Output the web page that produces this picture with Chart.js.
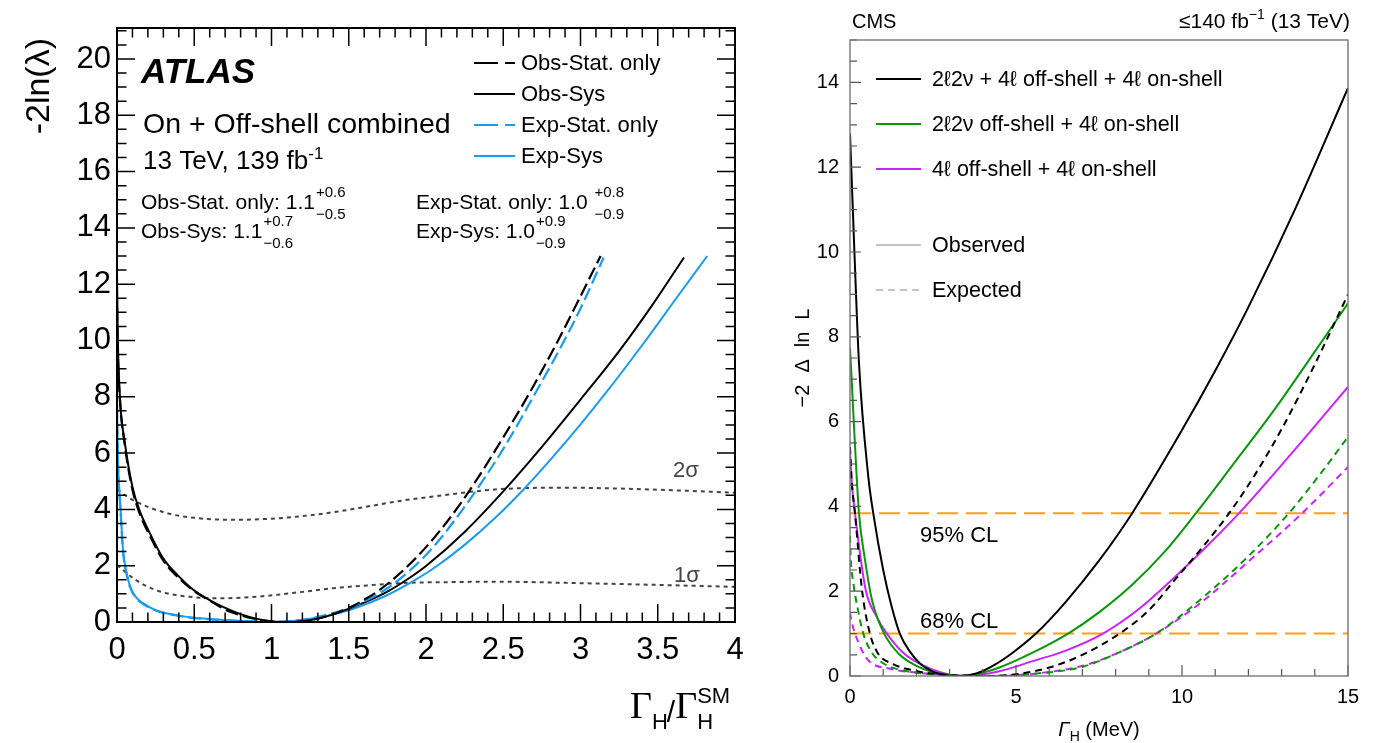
<!DOCTYPE html>
<html lang="en">
<head>
<meta charset="UTF-8">
<title>Higgs width likelihood scans</title>
<style>
  body { margin: 0; background: #fff; }
  #wrap { position: relative; width: 1377px; height: 743px; overflow: hidden; }
  canvas { position: absolute; top: 0; }
  #atlas { left: 0; }
  #cms { left: 780px; }
</style>
</head>
<body>
<div id="wrap">
  <canvas id="atlas" width="770" height="743"></canvas>
  <canvas id="cms" width="597" height="743"></canvas>
</div>
<script src="https://cdn.jsdelivr.net/npm/chart.js@4.4.0/dist/chart.umd.min.js"></script>
<script>
// ---- ATLAS scan: -2ln(lambda) vs Gamma_H / Gamma_H^SM ----
const obsStatX = [0, 0.005, 0.02, 0.05, 0.1, 0.15, 0.2, 0.3, 0.4, 0.5, 0.6, 0.7, 0.8, 0.9, 1.0, 1.1, 1.2, 1.3, 1.4, 1.5, 1.6, 1.7, 1.85, 2.0, 2.15, 2.3, 2.5, 2.69, 2.85, 2.98, 3.13];
const obsStatY = [11.2, 9.6, 7.8, 6.3, 4.7, 3.8, 3.2, 2.18, 1.56, 1.1, 0.76, 0.44, 0.24, 0.1, 0.02, 0, 0.03, 0.12, 0.28, 0.5, 0.79, 1.14, 1.82, 2.66, 3.66, 4.82, 6.56, 8.33, 9.95, 11.35, 13.0];

const obsSysX = [0, 0.005, 0.02, 0.05, 0.1, 0.15, 0.2, 0.3, 0.4, 0.5, 0.6, 0.7, 0.8, 0.9, 1.0, 1.1, 1.2, 1.3, 1.4, 1.5, 1.625, 1.75, 1.875, 2.0, 2.25, 2.5, 2.75, 3.0, 3.25, 3.47, 3.67];
const obsSysY = [12.4, 10.2, 7.9, 6.4, 4.8, 3.9, 3.3, 2.25, 1.62, 1.12, 0.78, 0.5, 0.28, 0.12, 0.03, 0, 0.03, 0.12, 0.27, 0.47, 0.75, 1.08, 1.5, 1.99, 3.2, 4.64, 6.22, 7.9, 9.62, 11.3, 12.95];

const expStatX = [0, 0.003, 0.01, 0.02, 0.04, 0.06, 0.085, 0.12, 0.17, 0.25, 0.32, 0.43, 0.54, 0.75, 0.9, 1.0, 1.1, 1.2, 1.3, 1.4, 1.5, 1.6, 1.75, 1.9, 2.05, 2.3, 2.5, 2.72, 2.9, 3.01, 3.15];
const expStatY = [7.7, 6.4, 5.1, 4.2, 2.45, 1.76, 1.23, 0.88, 0.64, 0.41, 0.3, 0.19, 0.12, 0.05, 0.015, 0, 0.02, 0.08, 0.18, 0.32, 0.5, 0.73, 1.2, 1.85, 2.68, 4.48, 6.15, 8.25, 10.05, 11.25, 12.95];

const expSysX = [0, 0.003, 0.01, 0.02, 0.04, 0.06, 0.085, 0.12, 0.17, 0.25, 0.32, 0.43, 0.54, 0.75, 0.9, 1.0, 1.1, 1.2, 1.3, 1.4, 1.5, 1.6, 1.75, 1.9, 2.05, 2.25, 2.45, 2.63, 2.8, 3.0, 3.17, 3.4, 3.62, 3.82];
const expSysY = [7.85, 6.5, 5.2, 4.3, 2.5, 1.8, 1.26, 0.9, 0.66, 0.42, 0.31, 0.2, 0.13, 0.05, 0.015, 0, 0.02, 0.07, 0.16, 0.27, 0.42, 0.61, 0.96, 1.4, 1.91, 2.74, 3.71, 4.7, 5.73, 7.02, 8.18, 9.84, 11.5, 13.0];

// 1 and 2 sigma thresholds
const sigma2X = [0, 0.1, 0.32, 0.5, 0.75, 1.0, 1.18, 1.4, 1.62, 1.83, 2.05, 2.48, 2.91, 3.25, 3.6, 4.0];
const sigma2Y = [4.7, 4.34, 3.87, 3.7, 3.63, 3.67, 3.75, 3.9, 4.1, 4.3, 4.46, 4.72, 4.77, 4.74, 4.68, 4.59];
const sigma1X = [0, 0.106, 0.2, 0.32, 0.5, 0.65, 0.8, 0.97, 1.2, 1.4, 1.62, 1.83, 2.2, 2.48, 2.91, 3.4, 4.0];
const sigma1Y = [2.03, 1.55, 1.25, 1.02, 0.88, 0.84, 0.86, 0.93, 1.07, 1.2, 1.3, 1.38, 1.42, 1.43, 1.39, 1.33, 1.25];

const atlasXTicks = [0, 4, 0.5];      // min, max, label step
const atlasYTicks = [0, 21.1, 2];

// ---- CMS scan: -2 Delta ln L vs Gamma_H (MeV) ----
const cmbObsX = [0, 0.13, 0.27, 0.55, 0.7, 1.0, 1.25, 1.5, 1.8, 2.1, 2.45, 2.8, 3.3, 3.8, 4.3, 4.9, 5.6, 6.5, 7.5, 8.5, 10.0, 11.0, 12.0, 13.4, 15.0];
const cmbObsY = [12.8, 10.06, 7.39, 4.71, 3.84, 2.5, 1.65, 1.0, 0.58, 0.3, 0.12, 0.03, 0, 0.06, 0.24, 0.55, 1.0, 1.75, 2.72, 3.84, 5.8, 7.2, 8.7, 11.0, 13.87];
const cmbExpX = [0, 0.05, 0.15, 0.36, 0.6, 0.83, 1.3, 2.0, 2.7, 3.4, 4.1, 5.0, 6.0, 7.0, 8.12, 9.0, 9.82, 10.6, 11.42, 12.2, 13.02, 14.0, 15.0];
const cmbExpY = [5.4, 4.6, 3.84, 2.04, 1.0, 0.55, 0.28, 0.12, 0.04, 0.01, 0, 0.04, 0.2, 0.5, 1.0, 1.55, 2.3, 3.02, 3.84, 4.75, 5.85, 7.35, 9.0];

const nuObsX = [0, 0.05, 0.12, 0.27, 0.45, 0.66, 1.03, 1.5, 2.0, 2.5, 3.0, 3.3, 3.8, 4.5, 5.5, 6.57, 7.5, 8.5, 9.5, 10.42, 11.5, 12.8, 14.0, 15.0];
const nuObsY = [7.74, 7.0, 5.9, 3.84, 2.75, 1.8, 1.0, 0.5, 0.24, 0.09, 0.02, 0, 0.04, 0.2, 0.55, 1.0, 1.5, 2.15, 2.95, 3.84, 4.95, 6.3, 7.65, 8.79];
const nuExpX = [0, 0.02, 0.1, 0.23, 0.4, 0.66, 1.0, 1.5, 2.5, 3.3, 4.1, 5.5, 7.02, 8.0, 9.22, 10.52, 11.9, 13.22, 14.2, 15.0];
const nuExpY = [3.3, 2.8, 2.2, 1.6, 1.0, 0.55, 0.3, 0.15, 0.04, 0.01, 0, 0.05, 0.22, 0.52, 1.0, 1.78, 2.75, 3.84, 4.8, 5.64];

const fourLObsX = [0, 0.05, 0.15, 0.47, 0.8, 1.11, 1.6, 2.2, 2.8, 3.3, 3.9, 4.5, 5.5, 6.5, 7.62, 8.7, 9.82, 10.8, 11.72, 13.3, 15.0];
const fourLObsY = [5.3, 4.6, 3.84, 2.04, 1.4, 1.0, 0.55, 0.25, 0.07, 0, 0.03, 0.11, 0.35, 0.6, 1.0, 1.58, 2.36, 3.1, 3.84, 5.25, 6.82];
const fourLExpX = [0, 0.05, 0.15, 0.52, 1.22, 2.0, 3.0, 4.1, 5.5, 7.0, 8.0, 9.22, 10.52, 12.0, 13.62, 15.0];
const fourLExpY = [1.5, 1.28, 1.0, 0.4, 0.17, 0.08, 0.02, 0, 0.05, 0.24, 0.52, 1.0, 1.7, 2.7, 3.84, 4.93];

const clLevels = [3.84, 1.0];        // 95% and 68% CL
const cmsXTicks = [0, 15, 5];
const cmsYTicks = [0, 15, 2];

const SANS = '"Liberation Sans", Arial, "DejaVu Sans", sans-serif';
const SERIF = '"Liberation Serif", "Times New Roman", serif';

function pts(xs, ys) { return xs.map((x, i) => ({ x: x, y: ys[i] })); }

function curve(label, xs, ys, color, dash, width) {
  return {
    label: label,
    data: pts(xs, ys),
    borderColor: color,
    borderDash: dash || [],
    borderWidth: width,
    pointRadius: 0,
    fill: false,
    cubicInterpolationMode: 'monotone'
  };
}

// inward ROOT-style ticks plus the frame around the plot area
const frameTicks = {
  id: 'frameTicks',
  afterDatasetsDraw(chart, args, o) {
    const { ctx, chartArea: a } = chart;
    const sx = chart.scales.x, sy = chart.scales.y;
    ctx.save();
    ctx.strokeStyle = o.color;
    ctx.lineWidth = o.tickWidth;
    ctx.beginPath();
    const walk = (scale, minor, major, fn) => {
      for (let i = 0; ; i++) {
        const v = scale.min + i * minor;
        if (v > scale.max + 1e-9) break;
        const r = v / major;
        fn(scale.getPixelForValue(v), Math.abs(r - Math.round(r)) < 1e-6);
      }
    };
    walk(sx, o.xMinor, o.xMajor, (px, big) => {
      const len = big ? o.majorLen : o.minorLen;
      ctx.moveTo(px, a.bottom); ctx.lineTo(px, a.bottom - len);
      if (o.mirror) { ctx.moveTo(px, a.top); ctx.lineTo(px, a.top + len); }
    });
    walk(sy, o.yMinor, o.yMajor, (py, big) => {
      const len = big ? o.majorLen : o.minorLen;
      ctx.moveTo(a.left, py); ctx.lineTo(a.left + len, py);
      if (o.mirror) { ctx.moveTo(a.right, py); ctx.lineTo(a.right - len, py); }
    });
    ctx.stroke();
    ctx.strokeStyle = o.frameColor;
    ctx.lineWidth = o.frameWidth;
    ctx.strokeRect(a.left, a.top, a.right - a.left, a.bottom - a.top);
    ctx.restore();
  }
};

function runs(ctx, x, y, parts) {
  for (const p of parts) {
    ctx.font = p[1];
    ctx.fillText(p[0], x, y + (p[2] || 0));
    x += ctx.measureText(p[0]).width;
  }
  return x;
}

function withErrors(ctx, x, y, main, up, down) {
  ctx.font = '21px ' + SANS;
  ctx.fillText(main, x, y);
  const xs = x + ctx.measureText(main).width + 1;
  ctx.font = '15px ' + SANS;
  ctx.fillText(up, xs, y - 12);
  ctx.fillText(down, xs, y + 10);
}

function sample(ctx, x0, x1, y, color, dash, width) {
  ctx.save();
  ctx.strokeStyle = color;
  ctx.lineWidth = width;
  ctx.setLineDash(dash);
  ctx.beginPath();
  ctx.moveTo(x0, y); ctx.lineTo(x1, y);
  ctx.stroke();
  ctx.restore();
}

const atlasText = {
  id: 'atlasText',
  afterDraw(chart) {
    const ctx = chart.ctx;
    ctx.save();
    ctx.fillStyle = '#000';
    ctx.textBaseline = 'alphabetic';
    ctx.textAlign = 'left';

    ctx.font = 'italic bold 35px ' + SANS;
    ctx.fillText('ATLAS', 141, 83);
    ctx.font = '28.5px ' + SANS;
    ctx.fillText('On + Off-shell combined', 143, 133);
    runs(ctx, 143, 169, [['13 TeV, 139 fb', '26px ' + SANS], ['-1', '17px ' + SANS, -10]]);

    withErrors(ctx, 141, 209, 'Obs-Stat. only: 1.1', '+0.6', '\u22120.5');
    withErrors(ctx, 141, 238, 'Obs-Sys: 1.1', '+0.7', '\u22120.6');
    withErrors(ctx, 416, 209, 'Exp-Stat. only: 1.0 ', '+0.8', '\u22120.9');
    withErrors(ctx, 416, 238, 'Exp-Sys: 1.0', '+0.9', '\u22120.9');

    // legend
    const leg = [
      ['Obs-Stat. only', '#000', [24, 7]],
      ['Obs-Sys', '#000', []],
      ['Exp-Stat. only', '#199cf0', [24, 7]],
      ['Exp-Sys', '#199cf0', []]
    ];
    ctx.font = '22px ' + SANS;
    ctx.textBaseline = 'middle';
    leg.forEach((e, i) => {
      const y = 63 + i * 31;
      sample(ctx, 474, 515, y, e[1], e[2], 2.2);
      ctx.fillText(e[0], 521, y + 1);
    });

    ctx.fillStyle = '#444';
    ctx.font = '22px ' + SANS;
    ctx.fillText('2\u03c3', 673, 471);
    ctx.fillText('1\u03c3', 674, 576);

    // axis titles
    ctx.fillStyle = '#000';
    ctx.save();
    ctx.translate(40, 38);
    ctx.rotate(-Math.PI / 2);
    ctx.textAlign = 'right';
    ctx.font = '34px ' + SANS;
    ctx.fillText('-2ln(\u03bb)', 0, 0);
    ctx.restore();

    ctx.textBaseline = 'alphabetic';
    let x = 630;
    ctx.font = '38px ' + SERIF;
    ctx.fillText('\u0393', x, 718);
    x += ctx.measureText('\u0393').width;
    ctx.font = '22px ' + SANS;
    ctx.fillText('H', x, 729);
    x += ctx.measureText('H').width;
    ctx.font = '30px ' + SANS;
    ctx.fillText('/', x - 1, 722);
    x += ctx.measureText('/').width - 1;
    ctx.font = '38px ' + SERIF;
    ctx.fillText('\u0393', x, 718);
    x += ctx.measureText('\u0393').width;
    ctx.font = '22px ' + SANS;
    ctx.fillText('SM', x, 703);
    ctx.fillText('H', x, 729);
    ctx.restore();
  }
};

const cmsText = {
  id: 'cmsText',
  afterDraw(chart) {
    const ctx = chart.ctx;
    ctx.save();
    ctx.fillStyle = '#000';
    ctx.textBaseline = 'alphabetic';
    ctx.textAlign = 'left';

    ctx.font = '20px ' + SANS;
    ctx.fillText('CMS', 72, 28);

    // right-aligned luminosity label
    const lumi = [['\u2264140 fb', '21px ' + SANS], ['\u22121', '14px ' + SANS, -9], [' (13 TeV)', '21px ' + SANS]];
    let w = 0;
    lumi.forEach(p => { ctx.font = p[1]; w += ctx.measureText(p[0]).width; });
    runs(ctx, 570 - w, 28, lumi);

    const leg = [
      ['2\u21132\u03bd + 4\u2113 off-shell + 4\u2113 on-shell', '#000', [], 79],
      ['2\u21132\u03bd off-shell + 4\u2113 on-shell', '#0a960a', [], 124],
      ['4\u2113 off-shell + 4\u2113 on-shell', '#cc22ff', [], 169],
      ['Observed', '#c4c4c4', [], 245],
      ['Expected', '#c4c4c4', [7, 5], 290]
    ];
    ctx.font = '21.5px ' + SANS;
    ctx.textBaseline = 'middle';
    leg.forEach(e => {
      sample(ctx, 96, 141, e[3], e[1], e[2], 2);
      ctx.fillText(e[0], 152, e[3] + 1);
    });

    ctx.font = '22px ' + SANS;
    ctx.fillText('95% CL', 140, 536);
    ctx.fillText('68% CL', 140, 622);

    // y title, spread out in pieces
    ctx.save();
    ctx.translate(23, 358);
    ctx.rotate(-Math.PI / 2);
    ctx.font = '20px ' + SANS;
    const pieces = ['\u22122', '\u0394', 'ln', 'L'];
    const gap = 12;
    let total = gap * (pieces.length - 1);
    pieces.forEach(p => { total += ctx.measureText(p).width; });
    let px = -total / 2;
    pieces.forEach(p => { ctx.fillText(p, px, 0); px += ctx.measureText(p).width + gap; });
    ctx.restore();

    ctx.textBaseline = 'alphabetic';
    const title = [['\u0393', 'italic 20px ' + SANS], ['H', '14px ' + SANS, 5], [' (MeV)', '20px ' + SANS]];
    w = 0;
    title.forEach(p => { ctx.font = p[1]; w += ctx.measureText(p[0]).width; });
    runs(ctx, 319 - w / 2, 736, title);
    ctx.restore();
  }
};

function tickFont(size) { return { family: SANS, size: size }; }
function plain(v) { return String(v); }

new Chart(document.getElementById('atlas'), {
  type: 'line',
  data: {
    datasets: [
      curve('Obs-Stat. only', obsStatX, obsStatY, '#000', [13, 5], 2.2),
      curve('Exp-Stat. only', expStatX, expStatY, '#199cf0', [13, 5], 2.2),
      curve('Obs-Sys', obsSysX, obsSysY, '#000', [], 2),
      curve('Exp-Sys', expSysX, expSysY, '#199cf0', [], 2),
      curve('2 sigma', sigma2X, sigma2Y, '#444', [4, 4], 2),
      curve('1 sigma', sigma1X, sigma1Y, '#444', [4, 4], 2)
    ]
  },
  options: {
    responsive: false,
    animation: false,
    layout: { padding: { left: 0, top: 28, right: 35, bottom: 0 } },
    plugins: {
      legend: { display: false },
      tooltip: { enabled: false },
      frameTicks: {
        color: '#000', tickWidth: 1.5, frameColor: '#000', frameWidth: 2,
        xMajor: 0.5, xMinor: 0.1, yMajor: 2, yMinor: 0.5,
        majorLen: 18, minorLen: 9.5, mirror: true
      }
    },
    scales: {
      x: {
        type: 'linear', min: atlasXTicks[0], max: atlasXTicks[1],
        grid: { display: false, drawTicks: false }, border: { display: false },
        ticks: { stepSize: atlasXTicks[2], autoSkip: false, maxRotation: 0, includeBounds: false,
                 padding: 10, color: '#000', font: tickFont(31), callback: plain },
        afterFit(s) { s.height = 121; }
      },
      y: {
        type: 'linear', min: atlasYTicks[0], max: atlasYTicks[1],
        grid: { display: false, drawTicks: false }, border: { display: false },
        ticks: { stepSize: atlasYTicks[2], autoSkip: false, includeBounds: false,
                 padding: 6, color: '#000', font: tickFont(31), callback: plain },
        afterFit(s) { s.width = 117; }
      }
    }
  },
  plugins: [frameTicks, atlasText]
});

const GREEN = '#0a960a', MAGENTA = '#cc22ff', ORANGE = '#ffa010';

new Chart(document.getElementById('cms'), {
  type: 'line',
  data: {
    datasets: [
      curve('2l2nu + 4l off-shell + 4l on-shell', cmbObsX, cmbObsY, '#000', [], 2),
      curve('2l2nu + 4l off-shell + 4l on-shell (exp)', cmbExpX, cmbExpY, '#000', [7, 5], 2),
      curve('2l2nu off-shell + 4l on-shell', nuObsX, nuObsY, GREEN, [], 2),
      curve('2l2nu off-shell + 4l on-shell (exp)', nuExpX, nuExpY, GREEN, [7, 5], 2),
      curve('4l off-shell + 4l on-shell', fourLObsX, fourLObsY, MAGENTA, [], 2),
      curve('4l off-shell + 4l on-shell (exp)', fourLExpX, fourLExpY, MAGENTA, [7, 5], 2),
      curve('95% CL', [cmsXTicks[0], cmsXTicks[1]], [clLevels[0], clLevels[0]], ORANGE, [21, 8], 2),
      curve('68% CL', [cmsXTicks[0], cmsXTicks[1]], [clLevels[1], clLevels[1]], ORANGE, [21, 8], 2)
    ]
  },
  options: {
    responsive: false,
    animation: false,
    layout: { padding: { left: 0, top: 40, right: 29, bottom: 0 } },
    plugins: {
      legend: { display: false },
      tooltip: { enabled: false },
      frameTicks: {
        color: '#555', tickWidth: 1.2, frameColor: '#777', frameWidth: 1.4,
        xMajor: 5, xMinor: 1, yMajor: 2, yMinor: 0.5,
        majorLen: 11, minorLen: 7, mirror: false
      }
    },
    scales: {
      x: {
        type: 'linear', min: cmsXTicks[0], max: cmsXTicks[1],
        grid: { display: false, drawTicks: false }, border: { display: false },
        ticks: { stepSize: cmsXTicks[2], autoSkip: false, maxRotation: 0, includeBounds: false,
                 padding: 9, color: '#000', font: tickFont(20), callback: plain },
        afterFit(s) { s.height = 67; }
      },
      y: {
        type: 'linear', min: cmsYTicks[0], max: cmsYTicks[1],
        grid: { display: false, drawTicks: false }, border: { display: false },
        ticks: { stepSize: cmsYTicks[2], autoSkip: false, includeBounds: false,
                 padding: 11, color: '#000', font: tickFont(20), callback: plain },
        afterFit(s) { s.width = 70; }
      }
    }
  },
  plugins: [frameTicks, cmsText]
});
</script>
</body>
</html>
